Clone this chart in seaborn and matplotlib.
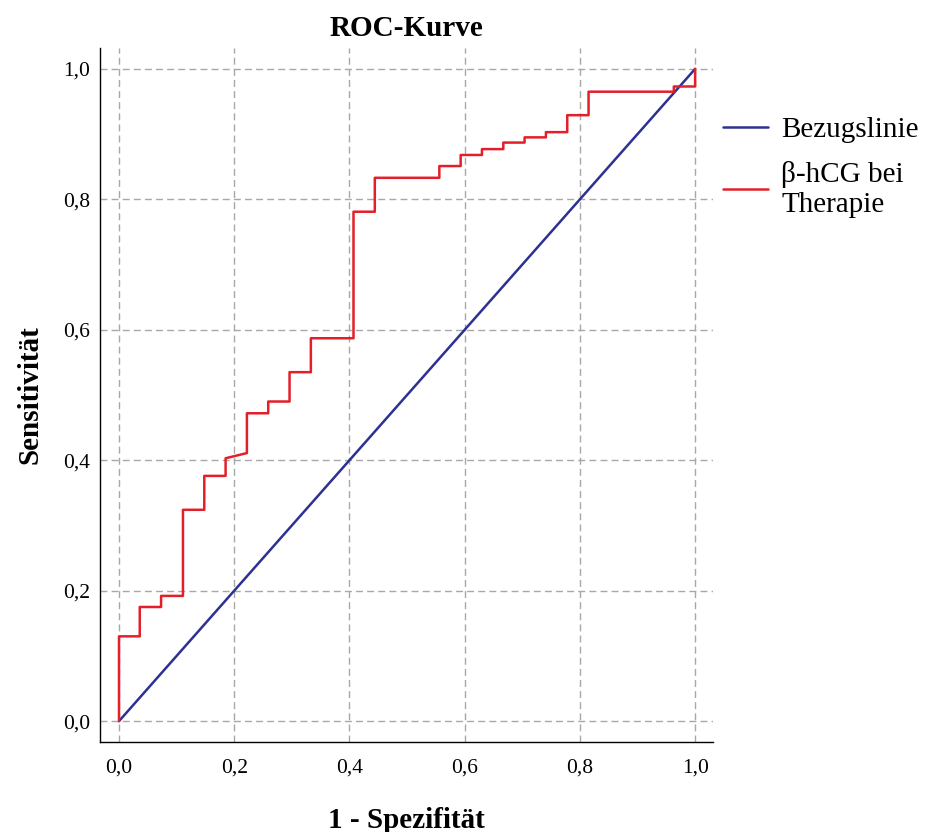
import seaborn as sns
import matplotlib
matplotlib.use('Agg')
import matplotlib.pyplot as plt
from matplotlib.ticker import FuncFormatter

# ROC-Punkte (1 - Spezifität, Sensitivität)
fpr = [0.0, 0.0, 0.036, 0.036, 0.073, 0.073, 0.111, 0.111, 0.148, 0.148,
       0.185, 0.185, 0.222, 0.222, 0.259, 0.259, 0.296, 0.296, 0.333, 0.333,
       0.407, 0.407, 0.444, 0.444, 0.556, 0.556, 0.593, 0.593, 0.630, 0.630,
       0.667, 0.667, 0.704, 0.704, 0.741, 0.741, 0.778, 0.778, 0.815, 0.815,
       0.963, 0.963, 1.0, 1.0]
tpr = [0.0, 0.130, 0.130, 0.175, 0.175, 0.192, 0.192, 0.324, 0.324, 0.376,
       0.376, 0.403, 0.411, 0.472, 0.472, 0.490, 0.490, 0.535, 0.535, 0.587,
       0.587, 0.781, 0.781, 0.833, 0.833, 0.851, 0.851, 0.868, 0.868, 0.877,
       0.877, 0.887, 0.887, 0.895, 0.895, 0.903, 0.903, 0.929, 0.929, 0.965,
       0.965, 0.973, 0.973, 1.0]
ref_x = [0.0, 1.0]
ref_y = [0.0, 1.0]
ticks = [0.0, 0.2, 0.4, 0.6, 0.8, 1.0]

sns.set_theme(style='white')
plt.rcParams['font.family'] = ['Liberation Serif', 'DejaVu Serif']
plt.rcParams['text.color'] = 'black'
plt.rcParams['axes.labelcolor'] = 'black'

fig = plt.figure(figsize=(9.25, 8.32), dpi=100)
ax = fig.add_axes([100/925, 90/832, 613/925, 694/832])

sns.lineplot(x=ref_x, y=ref_y, ax=ax, color='#2E3192', linewidth=1.8,
             label='Bezugslinie', sort=False, estimator=None)
sns.lineplot(x=fpr, y=tpr, ax=ax, color='#E3202A', linewidth=1.8,
             label='β-hCG bei\nTherapie', sort=False, estimator=None)

ax.set_xlim(-0.033, 1.031)
ax.set_ylim(-0.032, 1.032)
ax.set_xticks(ticks)
ax.set_yticks(ticks)
comma = FuncFormatter(lambda v, p: f'{v:.1f}'.replace('.', ','))
ax.xaxis.set_major_formatter(comma)
ax.yaxis.set_major_formatter(comma)
ax.tick_params(axis='x', length=0, pad=12, labelsize=15.5, colors='black')
ax.tick_params(axis='y', length=0, pad=7, labelsize=15.5, colors='black')

ax.grid(True, color='#A8A8A8', linestyle=(0, (5, 3)), linewidth=1.0)
sns.despine(ax=ax)
for s in ['left', 'bottom']:
    ax.spines[s].set_color('black')
    ax.spines[s].set_linewidth(1.0)

ax.set_title('ROC-Kurve', fontsize=21, fontweight='bold', pad=9, color='black')
ax.set_xlabel('1 - Spezifität', fontsize=21, fontweight='bold', labelpad=21)
ax.set_ylabel('Sensitivität', fontsize=21, fontweight='bold', labelpad=14)

leg = ax.legend(loc='upper left', bbox_to_anchor=(723/925, 1 - 117/832),
                bbox_transform=fig.transFigure, frameon=False, fontsize=21,
                borderpad=0, borderaxespad=0, handlelength=1.55,
                handletextpad=0.45, labelspacing=0.6)
for t in leg.get_texts():
    t.set_linespacing(1.22)

fig.savefig('out.png', dpi=100)
